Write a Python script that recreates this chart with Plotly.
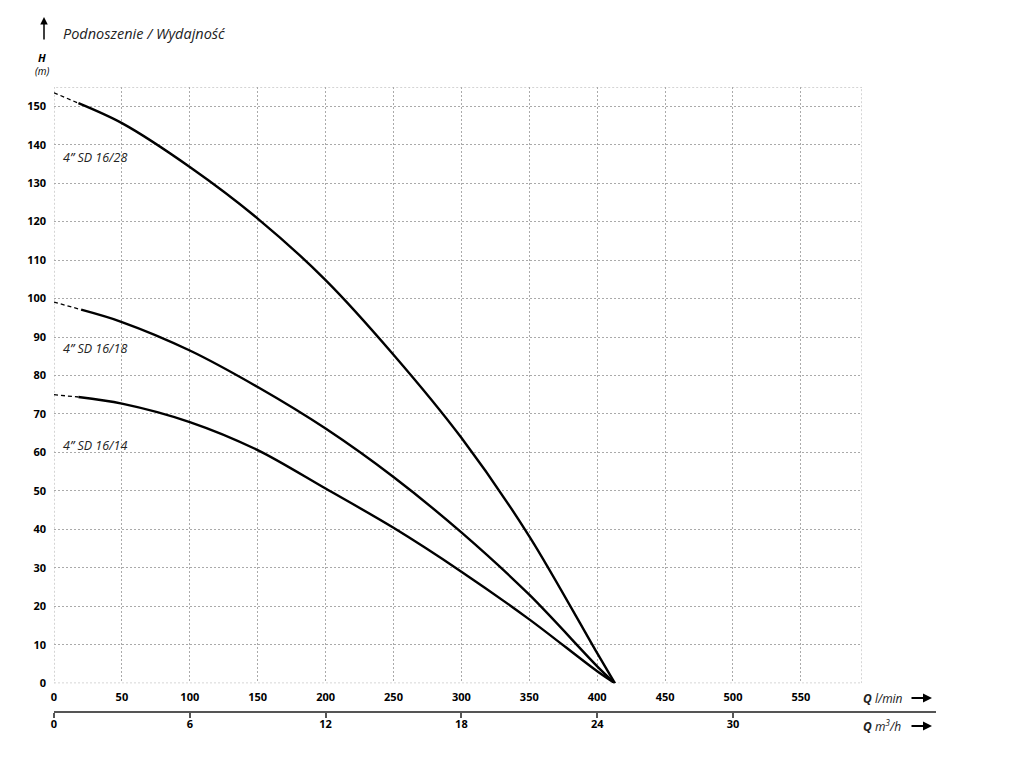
import plotly.graph_objects as go

# pump curves, Q in l/min, H in m
q_dash_28 = [0, 18]
h_dash_28 = [153.5, 150.8]
q_28 = [18, 50, 100, 150, 200, 250, 300, 350, 400, 413]
h_28 = [150.8, 145.6, 134.2, 120.8, 104.8, 85.4, 63.8, 38.2, 7.8, 0]

q_dash_18 = [0, 20]
h_dash_18 = [99.1, 97.1]
q_18 = [20, 50, 100, 150, 200, 250, 300, 350, 400, 413]
h_18 = [97.1, 93.9, 86.5, 77.0, 66.2, 53.6, 39.2, 23.0, 4.4, 0]

q_dash_14 = [0, 18]
h_dash_14 = [75.0, 74.4]
q_14 = [18, 50, 100, 150, 200, 250, 300, 350, 400, 413]
h_14 = [74.4, 72.7, 67.9, 60.6, 50.6, 40.4, 29.0, 16.6, 3.1, 0]

pump_names = ['4” SD 16/28', '4” SD 16/18', '4” SD 16/14']
label_h = [136.7, 87.1, 61.9]

q_ticks = [0, 50, 100, 150, 200, 250, 300, 350, 400, 450, 500, 550]
m3h_ticks = [0, 6, 12, 18, 24, 30]
h_ticks = list(range(0, 151, 10))

# page body has an 8px margin, so the figure is drawn 8px in from the corner
OFF = 8
W, H = 1021 - 2 * OFF, 757 - 2 * OFF
L, R, T, B = 46, 77, 79, 38
x_max = 595
x_dom = (862 - OFF - L) / (W - L - R)
y_dom = (711 - 683.2) / (H - T - B)
m3h_max = x_max * 0.06 / x_dom

FONT = 'Open Sans'


def px(x):
    return (x - OFF - L) / (W - L - R)


def py(y):
    return (H - B - (y - OFF)) / (H - T - B)


fig = go.Figure()

for qd, hd, qs, hs in [(q_dash_28, h_dash_28, q_28, h_28),
                       (q_dash_18, h_dash_18, q_18, h_18),
                       (q_dash_14, h_dash_14, q_14, h_14)]:
    fig.add_trace(go.Scatter(x=qd, y=hd, mode='lines',
                             line=dict(color='black', width=1.3, dash='4px,3px'),
                             showlegend=False, hoverinfo='skip'))
    fig.add_trace(go.Scatter(x=qs, y=hs, mode='lines',
                             line=dict(color='black', width=2.4, shape='spline', smoothing=0.9),
                             showlegend=False))

# empty trace so the m3/h axis gets drawn
fig.add_trace(go.Scatter(x=[None], y=[None], xaxis='x2', yaxis='y2', showlegend=False))

for name, hl in zip(pump_names, label_h):
    fig.add_annotation(x=5.5, y=hl, xref='x', yref='y', text=name, showarrow=False,
                       xanchor='left', yanchor='middle',
                       font=dict(family=FONT, size=12.5, color='#222', style='italic'))

grid = dict(showgrid=True, gridcolor='#aaaaaa', gridwidth=1, griddash='2px,2px',
            zeroline=False, showline=False)

fig.update_layout(
    width=W, height=H,
    margin=dict(l=L, r=R, t=T, b=B),
    paper_bgcolor='white', plot_bgcolor='rgba(0,0,0,0)',
    showlegend=False,
    xaxis=dict(domain=[0, x_dom], range=[0, x_max], anchor='y',
               tickvals=q_ticks, ticks='', ticklabelstandoff=6,
               tickfont=dict(family=FONT, size=11, color='black', weight='bold'),
               **grid),
    yaxis=dict(domain=[y_dom, 1], range=[0, 155], anchor='x',
               tickvals=h_ticks, ticks='', ticklabelstandoff=7,
               tickfont=dict(family=FONT, size=11, color='black', weight='bold'),
               **grid),
    xaxis2=dict(domain=[0, 1], range=[0, m3h_max], anchor='y2',
                tickvals=m3h_ticks, ticks='outside', ticklen=5, tickwidth=1.5,
                tickcolor='#555', showline=True, linecolor='#555', linewidth=2,
                showgrid=False, zeroline=False, ticklabelstandoff=-3,
                tickfont=dict(family=FONT, size=11, color='black', weight='bold')),
    yaxis2=dict(domain=[0, 1], range=[0, 1], anchor='x2', visible=False),
    shapes=[dict(type='rect', xref='x', yref='y', x0=0, x1=x_max, y0=0, y1=155,
                 line=dict(color='#aaaaaa', width=1, dash='2px,2px'), layer='below')],
)

# titles and axis captions
fig.add_annotation(x=px(61), y=py(33), xref='paper', yref='paper', text='Podnoszenie / Wydajność',
                   showarrow=False, xanchor='left', yanchor='middle',
                   font=dict(family=FONT, size=14.5, color='#222', style='italic'))
fig.add_annotation(x=px(44), y=py(17), xref='paper', yref='paper', text='', showarrow=True,
                   ax=0, ay=24, arrowhead=2, arrowsize=1, arrowwidth=1.5, arrowcolor='black')
fig.add_annotation(x=px(42), y=py(58), xref='paper', yref='paper', text='<b><i>H</i></b>',
                   showarrow=False, xanchor='center', yanchor='middle',
                   font=dict(family=FONT, size=11, color='black'))
fig.add_annotation(x=px(42), y=py(71), xref='paper', yref='paper', text='<i>(m)</i>',
                   showarrow=False, xanchor='center', yanchor='middle',
                   font=dict(family=FONT, size=10, color='black'))

for yy, unit in [(698, 'l/min'), (726, 'm<sup>3</sup>/h')]:
    fig.add_annotation(x=px(861), y=py(yy), xref='paper', yref='paper',
                       text='<b><i>Q</i></b> <i>' + unit + '</i>', showarrow=False,
                       xanchor='left', yanchor='middle',
                       font=dict(family=FONT, size=12, color='#222'))
    fig.add_annotation(x=px(932), y=py(yy), xref='paper', yref='paper', text='', showarrow=True,
                       ax=-22, ay=0, arrowhead=2, arrowsize=1, arrowwidth=1.8, arrowcolor='black')

fig.write_html("out.html")
